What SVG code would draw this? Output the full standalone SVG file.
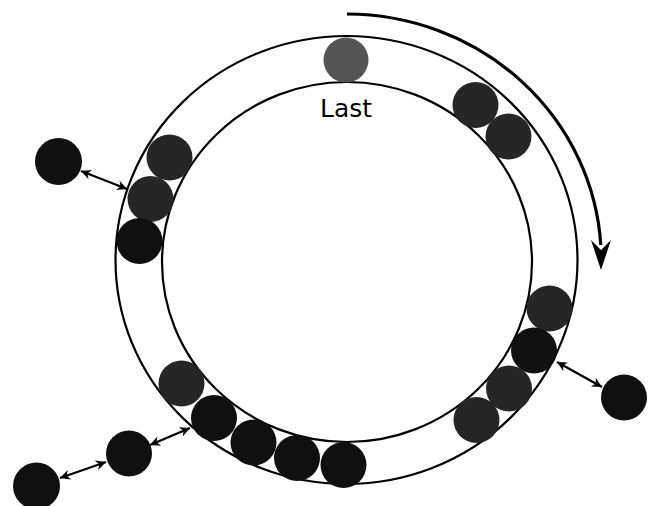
<svg xmlns="http://www.w3.org/2000/svg" width="652" height="506" viewBox="0 0 652 506">
<defs>
<style>
.ring{fill:none;stroke:#000;stroke-width:2.2}
.ball{stroke:none}
.g{fill:#555}
.d{fill:#262626}
.k{fill:#101010}
.link{stroke:#000;stroke-width:2.3;fill:none;marker-start:url(#ah);marker-end:url(#ah)}
.lbl{font-family:"DejaVu Sans","Liberation Sans",sans-serif;font-size:25px;fill:#000}
</style>
<marker id="ah" viewBox="0 0 10 10" refX="10" refY="5" markerWidth="11" markerHeight="10" markerUnits="userSpaceOnUse" orient="auto-start-reverse">
<path d="M0,0 L10,5 L0,10 L3,5 z" fill="#000"/>
</marker>
</defs>
<rect width="652" height="506" fill="#fff"/>
<g id="track">
<ellipse class="ring" cx="346.5" cy="260" rx="231" ry="224"/>
<ellipse class="ring" cx="347" cy="262" rx="185" ry="180"/>
</g>
<g id="direction">
<path d="M347,14 A255,246 0 0 1 600.8,245" fill="none" stroke="#000" stroke-width="3.2"/>
<polygon points="601,270 591,240 601,250 611,240" fill="#000"/>
</g>
<g id="connectors">
<line class="link" x1="81" y1="171" x2="127" y2="189"/>
<line class="link" x1="60" y1="478" x2="106" y2="462"/>
<line class="link" x1="150" y1="445" x2="190" y2="428"/>
<line class="link" x1="557" y1="362" x2="602" y2="387"/>
</g>
<g id="ball-last"><circle class="ball g" cx="346" cy="60" r="22.5"/></g>
<g id="ball-tr1"><circle class="ball d" cx="475.5" cy="105" r="23"/></g>
<g id="ball-tr2"><circle class="ball d" cx="508.5" cy="136.5" r="23"/></g>
<g id="ball-l1"><circle class="ball d" cx="169.5" cy="157.5" r="23"/></g>
<g id="ball-l2"><circle class="ball d" cx="150.5" cy="199" r="23"/></g>
<g id="ball-l3"><circle class="ball k" cx="139.5" cy="241" r="23"/></g>
<g id="ball-lout"><circle class="ball k" cx="58.5" cy="161.5" r="23.5"/></g>
<g id="ball-b1"><circle class="ball d" cx="181.5" cy="383.5" r="23"/></g>
<g id="ball-b2"><circle class="ball k" cx="214" cy="418" r="23"/></g>
<g id="ball-b3"><circle class="ball k" cx="253.5" cy="442.5" r="23"/></g>
<g id="ball-b4"><circle class="ball k" cx="297" cy="458" r="23"/></g>
<g id="ball-b5"><circle class="ball k" cx="343.5" cy="465" r="23"/></g>
<g id="ball-bout1"><circle class="ball k" cx="129" cy="453.5" r="23"/></g>
<g id="ball-bout2"><circle class="ball k" cx="36.5" cy="486" r="23.5"/></g>
<g id="ball-r1"><circle class="ball d" cx="549.5" cy="308.5" r="23"/></g>
<g id="ball-r2"><circle class="ball k" cx="534" cy="350.5" r="23"/></g>
<g id="ball-r3"><circle class="ball d" cx="509" cy="388.5" r="23"/></g>
<g id="ball-r4"><circle class="ball d" cx="476.5" cy="420" r="23"/></g>
<g id="ball-rout"><circle class="ball k" cx="624" cy="397.5" r="23"/></g>
<g id="label"><text class="lbl" x="346" y="117" text-anchor="middle">Last</text></g>
</svg>
